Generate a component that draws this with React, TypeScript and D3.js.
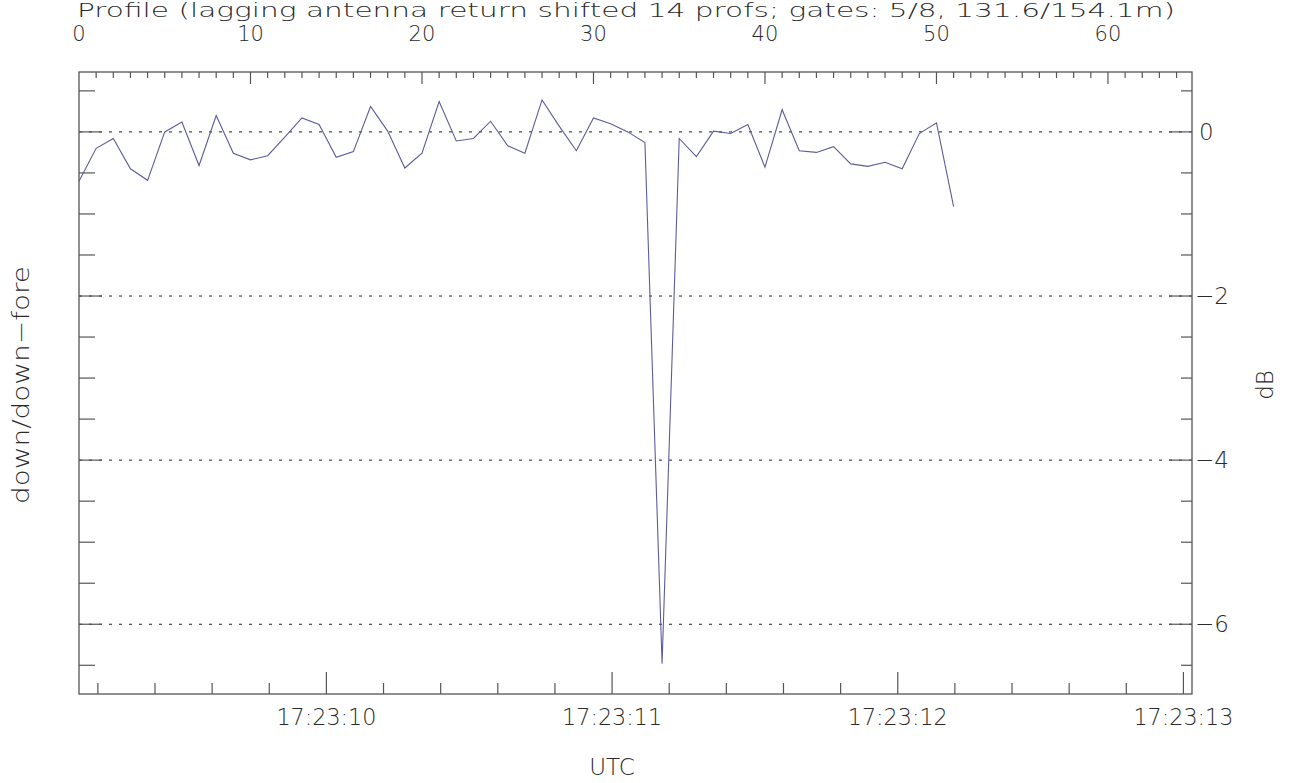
import * as d3 from 'd3';

// profile index of each sample (lagging return shifted 14 profs)
const profiles = d3.range(0, 52);
// down/down-fore ratio in dB
const ratioDb = [
  -0.6, -0.2, -0.08, -0.45, -0.59, 0.0, 0.12, -0.41, 0.2, -0.26,
  -0.34, -0.29, -0.065, 0.17, 0.09, -0.31, -0.24, 0.31, 0.01, -0.44,
  -0.26, 0.37, -0.11, -0.08, 0.13, -0.17, -0.26, 0.39, 0.07, -0.23,
  0.17, 0.1, 0.0, -0.13, -6.48, -0.08, -0.3, 0.01, -0.02, 0.09,
  -0.43, 0.27, -0.23, -0.25, -0.18, -0.39, -0.42, -0.37, -0.45, -0.02,
  0.11, -0.91,
];
const profileTicks = [0, 10, 20, 30, 40, 50, 60];
// seconds after 17:23:00
const timeTicks = [10, 11, 12, 13];
const timeLabels = ['17:23:10', '17:23:11', '17:23:12', '17:23:13'];
const dbTicks = [0, -2, -4, -6];

const W = 1292;
const H = 783;
const m = { left: 79, right: 1192, top: 72, bottom: 694 };
const font = '"DejaVu Sans", sans-serif';
const axisColor = '#555';
const textColor = '#2a2a2a';

export default function App() {
  const xProf = d3.scaleLinear().domain([0, 64.9]).range([m.left, m.right]);
  const xTime = d3.scaleLinear().domain([9.134, 13.03]).range([m.left, m.right]);
  const y = d3.scaleLinear().domain([-6.85, 0.73]).range([m.bottom, m.top]);

  const line = d3
    .line<number>()
    .x((d, i) => xProf(profiles[i]))
    .y(d => y(d));

  const profMinor = d3.range(1, 65);
  const timeMinor = d3.range(46, 66).map(v => v / 5); // every 0.2 s
  const dbMinor = d3.range(1, -14, -1).map(v => v / 2); // every 0.5 dB

  const txt = { fontFamily: font, fontWeight: 200, fill: textColor };

  return (
    <svg width={W} height={H} style={{ position: 'absolute', left: 0, top: 0 }}>
      <rect width={W} height={H} fill="#fff" />

      {/* dotted grid lines */}
      {dbTicks.map(t => (
        <line key={'g' + t} x1={m.left} x2={m.right} y1={y(t)} y2={y(t)}
          stroke="#222" strokeWidth={1} strokeDasharray="3 7" />
      ))}

      {/* frame */}
      <rect x={m.left} y={m.top} width={m.right - m.left} height={m.bottom - m.top}
        fill="none" stroke={axisColor} strokeWidth={1.3} />

      {/* top axis: profile */}
      {profMinor.map(p => (
        <line key={'pt' + p} x1={xProf(p)} x2={xProf(p)} y1={m.top}
          y2={m.top + (p % 10 === 0 ? 12 : 6)} stroke={axisColor} strokeWidth={1.2} />
      ))}
      {profileTicks.map(p => (
        <text key={'pl' + p} x={xProf(p)} y={41} textAnchor="middle" fontSize={21} {...txt}>{p}</text>
      ))}

      {/* bottom axis: time */}
      {timeMinor.map(t => {
        const major = Math.abs(t - Math.round(t)) < 1e-6;
        return (
          <line key={'tt' + t} x1={xTime(t)} x2={xTime(t)} y1={m.bottom}
            y2={m.bottom - (major ? 22 : 11)} stroke={axisColor} strokeWidth={1.2} />
        );
      })}
      {timeTicks.map((t, i) => (
        <text key={'tl' + t} x={xTime(t)} y={725} textAnchor="middle" fontSize={23}
          textLength={100} lengthAdjust="spacingAndGlyphs" {...txt}>{timeLabels[i]}</text>
      ))}

      {/* left and right axis ticks */}
      {dbMinor.map(v => {
        const major = v % 2 === 0;
        return (
          <g key={'dt' + v}>
            <line x1={m.left} x2={m.left + (major ? 23 : 16)} y1={y(v)} y2={y(v)}
              stroke={axisColor} strokeWidth={1.2} />
            <line x1={m.right} x2={m.right - (major ? 23 : 11)} y1={y(v)} y2={y(v)}
              stroke={axisColor} strokeWidth={1.2} />
          </g>
        );
      })}
      {dbTicks.map(t => (
        <text key={'dl' + t} x={t === 0 ? 1199 : 1195} y={y(t) + 8} fontSize={23} {...txt}>
          {t === 0 ? '0' : '\u2212' + Math.abs(t)}
        </text>
      ))}

      {/* data */}
      <path d={line(ratioDb) ?? ''} fill="none" stroke="#5c5c9c" strokeWidth={1.1} />

      {/* titles */}
      <text x={77} y={17} fontSize={19} textLength={1098} lengthAdjust="spacingAndGlyphs" {...txt}>
        Profile (lagging antenna return shifted 14 profs; gates: 5/8, 131.6/154.1m)
      </text>
      <text x={612} y={775} textAnchor="middle" fontSize={23} {...txt}>UTC</text>
      <text transform="translate(29,385) rotate(-90)" textAnchor="middle" fontSize={23}
        textLength={238} lengthAdjust="spacingAndGlyphs" {...txt}>down/down&#8722;fore</text>
      <text transform="translate(1273,385) rotate(-90)" textAnchor="middle" fontSize={23} {...txt}>dB</text>
    </svg>
  );
}
